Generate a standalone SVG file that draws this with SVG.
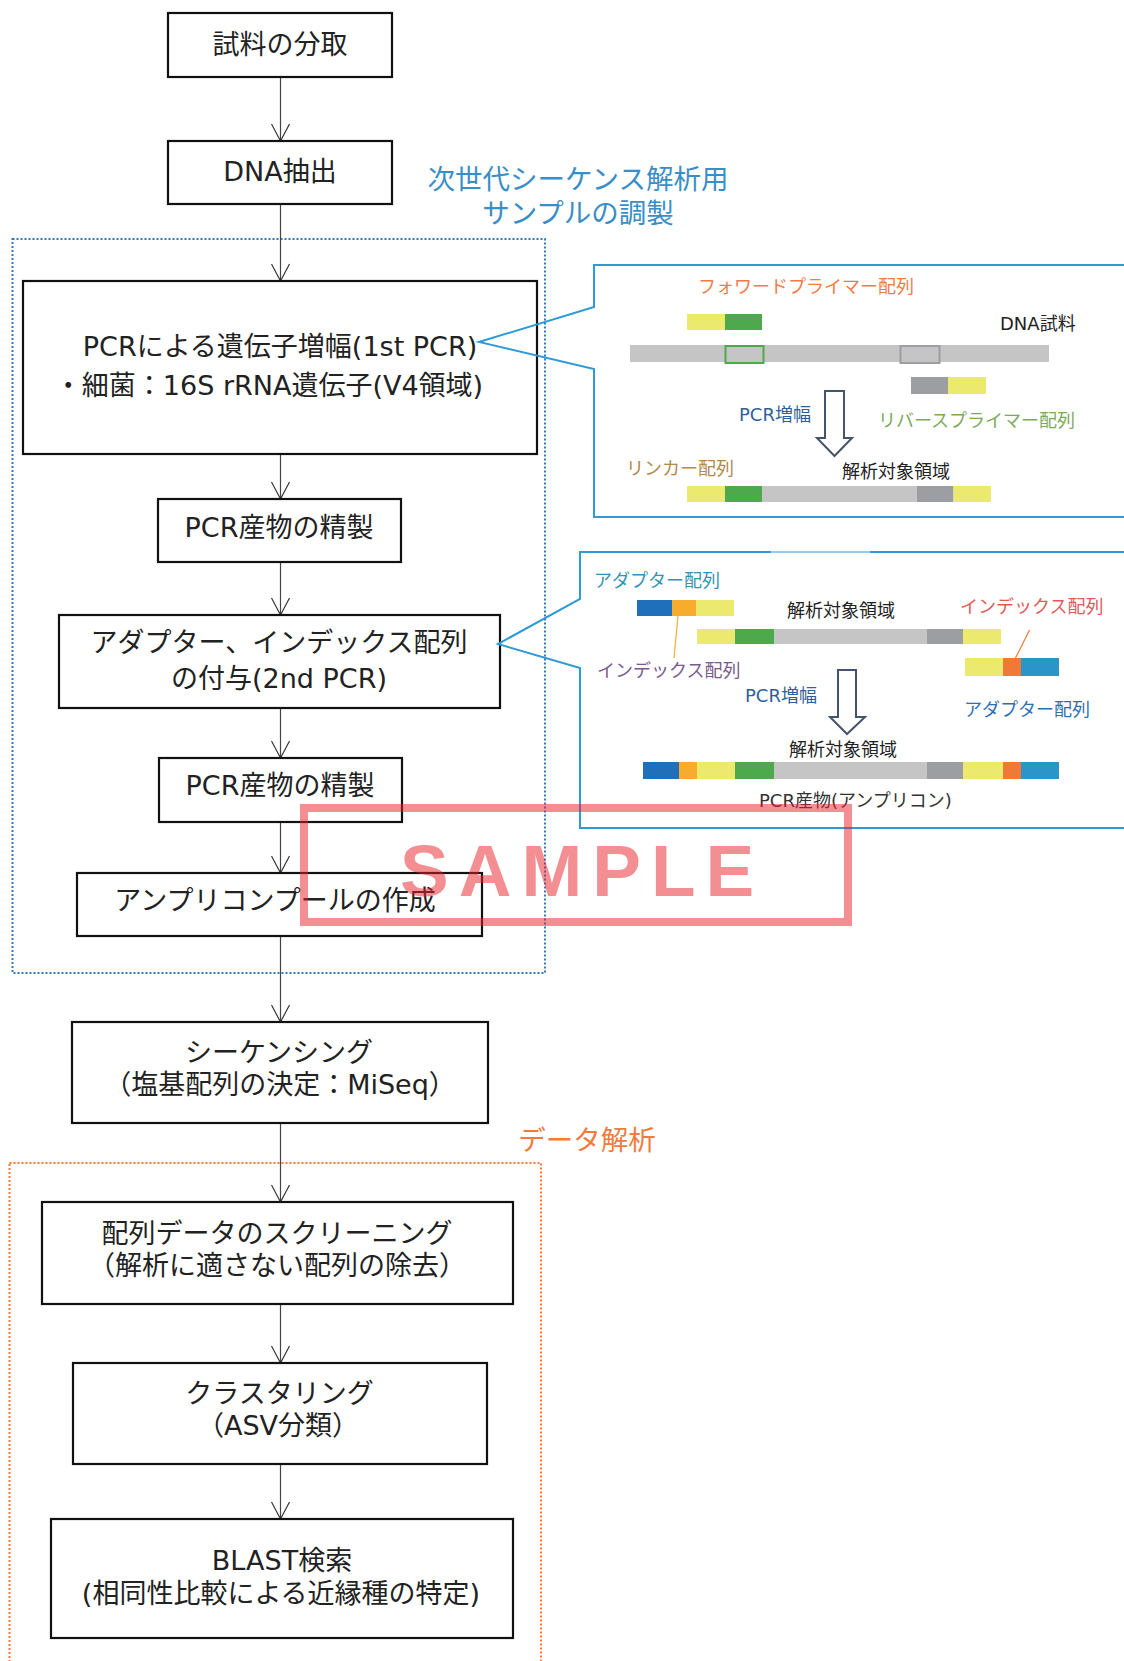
<svg xmlns="http://www.w3.org/2000/svg" width="1124" height="1661" viewBox="0 0 1124 1661">
<defs>
<marker id="arr" viewBox="-18 -10 20 20" refX="0" refY="0" markerWidth="20" markerHeight="20" markerUnits="userSpaceOnUse" orient="auto">
<path d="M-17,-9 L0,0 L-17,9" fill="none" stroke="#333" stroke-width="1.2"/>
</marker>
<style>
.box{fill:#fff;stroke:#111;stroke-width:2.2}
.t{font-family:"DejaVu Sans","Noto Sans CJK JP",sans-serif;font-size:27px;fill:#222;text-anchor:middle}
.lbl{font-family:"Noto Sans CJK JP",sans-serif;font-size:27.5px;text-anchor:middle}
.s{font-family:"DejaVu Sans","Noto Sans CJK JP",sans-serif;font-size:18px}
.conn{stroke:#444;stroke-width:1.2;fill:none;marker-end:url(#arr)}
.callout{fill:none;stroke:#2E9AD6;stroke-width:2}
.blk{fill:#fff;stroke:#44546A;stroke-width:2}
.y{fill:#ECEA6E}.g{fill:#4EA84C}.lg{fill:#C6C5C5}.dg{fill:#9D9EA1}.ab{fill:#1F6FBA}.io{fill:#F8AC2E}.ir{fill:#F07838}.ab2{fill:#2B95C9}
</style>
</defs>

<!-- group frames -->
<g id="frame-prep">
<rect x="12.5" y="239" width="532.5" height="734" fill="none" stroke="#2E7BC4" stroke-width="2" stroke-dasharray="2 2"/>
<text x="578" y="189" class="lbl" fill="#3A8EC7">次世代シーケンス解析用</text>
<text x="578" y="223" class="lbl" fill="#3A8EC7">サンプルの調製</text>
</g>
<g id="frame-analysis">
<rect x="9.5" y="1163" width="531.5" height="520" fill="none" stroke="#F4793B" stroke-width="2" stroke-dasharray="2 2"/>
<text x="587" y="1150" class="lbl" fill="#F07B3E">データ解析</text>
</g>

<!-- connectors -->
<g id="connectors">
<line class="conn" x1="280.5" y1="77" x2="280.5" y2="141"/>
<line class="conn" x1="280.5" y1="204" x2="280.5" y2="281"/>
<line class="conn" x1="280.5" y1="454" x2="280.5" y2="499"/>
<line class="conn" x1="280.5" y1="562" x2="280.5" y2="615"/>
<line class="conn" x1="280.5" y1="708" x2="280.5" y2="758"/>
<line class="conn" x1="280.5" y1="822" x2="280.5" y2="873"/>
<line class="conn" x1="280.5" y1="936" x2="280.5" y2="1022"/>
<line class="conn" x1="280.5" y1="1123" x2="280.5" y2="1202"/>
<line class="conn" x1="280.5" y1="1304" x2="280.5" y2="1363"/>
<line class="conn" x1="280.5" y1="1464" x2="280.5" y2="1519"/>
</g>

<!-- nodes -->
<g id="n1"><rect class="box" x="168" y="13" width="224" height="64"/><text class="t" x="280" y="54">試料の分取</text></g>
<g id="n2"><rect class="box" x="168" y="141" width="224" height="63"/><text class="t" x="280" y="181">DNA抽出</text></g>
<g id="n3"><rect class="box" x="23" y="281" width="514" height="173"/>
<text class="t" x="280" y="356">PCRによる遺伝子増幅(1st PCR)</text>
<text class="t" x="269" y="395">・細菌：16S rRNA遺伝子(V4領域)</text></g>
<g id="n4"><rect class="box" x="158" y="499" width="243" height="63"/><text class="t" x="279" y="537">PCR産物の精製</text></g>
<g id="n5"><rect class="box" x="59" y="615" width="441" height="93"/>
<text class="t" x="279" y="652">アダプター、インデックス配列</text>
<text class="t" x="279" y="688">の付与(2nd PCR)</text></g>
<g id="n6"><rect class="box" x="159" y="758" width="243" height="64"/><text class="t" x="280" y="795">PCR産物の精製</text></g>
<g id="n7"><rect class="box" x="77" y="873" width="405" height="63"/><text class="t" x="275" y="910">アンプリコンプールの作成</text></g>
<g id="n8"><rect class="box" x="72" y="1022" width="416" height="101"/>
<text class="t" x="279" y="1062">シーケンシング</text>
<text class="t" x="280" y="1094">（塩基配列の決定：MiSeq）</text></g>
<g id="n9"><rect class="box" x="42" y="1202" width="471" height="102"/>
<text class="t" x="277" y="1243">配列データのスクリーニング</text>
<text class="t" x="277" y="1275">（解析に適さない配列の除去）</text></g>
<g id="n10"><rect class="box" x="73" y="1363" width="414" height="101"/>
<text class="t" x="279.5" y="1403">クラスタリング</text>
<text class="t" x="278" y="1435">（ASV分類）</text></g>
<g id="n11"><rect class="box" x="51" y="1519" width="462" height="119"/>
<text class="t" x="282" y="1570">BLAST検索</text>
<text class="t" x="281" y="1603">(相同性比較による近縁種の特定)</text></g>

<!-- panel 1: 1st PCR -->
<g id="panel1">
<path class="callout" d="M1130,265 H594 V307 L479,342 L594,369 V517 H1130"/>
<text class="s" x="698" y="293" fill="#F07B47">フォワードプライマー配列</text>
<rect class="y" x="687" y="314" width="38" height="16"/><rect class="g" x="725" y="314" width="37" height="16"/>
<text class="s" x="1000" y="330" fill="#222">DNA試料</text>
<rect class="lg" x="630" y="345" width="419" height="17"/>
<rect x="725.5" y="346" width="38" height="17" fill="#C6C5C5" stroke="#4EA84C" stroke-width="2"/>
<rect x="900.5" y="346" width="39" height="17" fill="#C6C5C5" stroke="#9D9EA1" stroke-width="2"/>
<rect class="dg" x="911" y="377" width="37" height="17"/><rect class="y" x="948" y="377" width="38" height="17"/>
<path class="blk" d="M825,391 H844 V438 H852 L834.5,456 L817,438 H825 Z"/>
<text class="s" x="739" y="421" fill="#2F5F9A">PCR増幅</text>
<text class="s" x="878" y="427" fill="#7BAA5A">リバースプライマー配列</text>
<text class="s" x="626" y="475" fill="#B0894F">リンカー配列</text>
<text class="s" x="842" y="478" fill="#222">解析対象領域</text>
<rect class="y" x="687" y="486" width="38" height="16"/><rect class="g" x="725" y="486" width="37" height="16"/>
<rect class="lg" x="762" y="486" width="155" height="16"/><rect class="dg" x="917" y="486" width="36.5" height="16"/>
<rect class="y" x="953.5" y="486" width="37.5" height="16"/>
</g>

<!-- panel 2: 2nd PCR -->
<g id="panel2">
<path class="callout" d="M580,552 V599 L498,644 L580,668 V828 H1130"/>
<line x1="579" y1="552" x2="771" y2="552" stroke="#2E9AD6" stroke-width="2"/>
<line x1="771" y1="552" x2="870" y2="552" stroke="#2E9AD6" stroke-width="1"/>
<line x1="870" y1="552" x2="1130" y2="552" stroke="#2E9AD6" stroke-width="2"/>
<text class="s" x="594" y="587" fill="#2F95B2">アダプター配列</text>
<rect class="ab" x="637" y="600" width="35" height="16"/><rect class="io" x="672" y="600" width="24" height="16"/><rect class="y" x="696" y="600" width="38" height="16"/>
<line x1="678" y1="616" x2="674" y2="658" stroke="#F8AC2E" stroke-width="1.2"/>
<text class="s" x="597" y="677" fill="#7A5A8C">インデックス配列</text>
<text class="s" x="787" y="617" fill="#222">解析対象領域</text>
<rect class="y" x="697" y="629" width="38" height="15"/><rect class="g" x="735" y="629" width="39" height="15"/>
<rect class="lg" x="774" y="629" width="153" height="15"/><rect class="dg" x="927" y="629" width="36" height="15"/>
<rect class="y" x="963" y="629" width="38" height="15"/>
<text class="s" x="960" y="613" fill="#E05A5A">インデックス配列</text>
<line x1="1029.5" y1="630" x2="1015.5" y2="658" stroke="#F07838" stroke-width="1.2"/>
<rect class="y" x="965" y="658" width="38" height="18"/><rect class="ir" x="1003" y="658" width="18" height="18"/><rect class="ab2" x="1021" y="658" width="38" height="18"/>
<path class="blk" d="M838,670 H856 V717 H865 L847,734 L830,717 H838 Z"/>
<text class="s" x="745" y="702" fill="#2F5F9A">PCR増幅</text>
<text class="s" x="964" y="716" fill="#2E6FB4">アダプター配列</text>
<text class="s" x="789" y="756" fill="#222">解析対象領域</text>
<rect class="ab" x="643" y="762" width="36" height="17"/><rect class="io" x="679" y="762" width="18" height="17"/>
<rect class="y" x="697" y="762" width="38" height="17"/><rect class="g" x="735" y="762" width="39" height="17"/>
<rect class="lg" x="774" y="762" width="153" height="17"/><rect class="dg" x="927" y="762" width="36" height="17"/>
<rect class="y" x="963" y="762" width="40" height="17"/><rect class="ir" x="1003" y="762" width="18" height="17"/>
<rect class="ab2" x="1021" y="762" width="38" height="17"/>
<text class="s" x="759" y="807" fill="#333">PCR産物(アンプリコン)</text>
</g>

<!-- watermark -->
<g id="watermark" opacity="0.5">
<rect x="304" y="808" width="544" height="114" fill="none" stroke="#E8202A" stroke-width="8"/>
<text x="400" y="896" font-family="'Liberation Sans',Arial,sans-serif" font-weight="bold" font-size="73" letter-spacing="10" fill="#E8202A">SAMPLE</text>
</g>
</svg>
